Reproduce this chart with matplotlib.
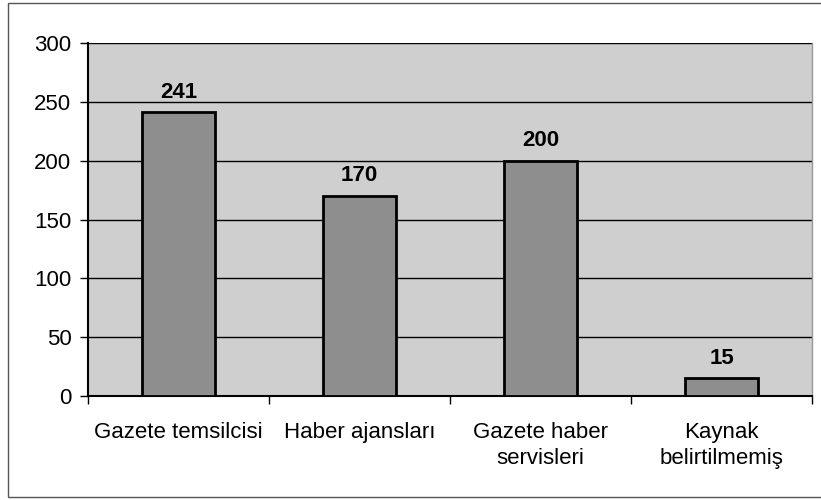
import numpy as np
import matplotlib
matplotlib.use('Agg')
import matplotlib.pyplot as plt
from matplotlib.patches import Rectangle

categories = ['Gazete temsilcisi', 'Haber ajansları', 'Gazete haber\nservisleri', 'Kaynak\nbelirtilmemiş']
values = [241, 170, 200, 15]
yticks = [0, 50, 100, 150, 200, 250, 300]

plt.rcParams['font.family'] = ['Liberation Sans', 'DejaVu Sans']

fig = plt.figure(figsize=(8.21, 5), dpi=100)
fig.patch.set_facecolor('white')
ax = fig.add_axes([88/821, 104/500, 724/821, 353/500])
ax.set_facecolor('#cfcfcf')

x = np.arange(len(categories))
bars = ax.bar(x, values, width=0.4, color='#8e8e8e', edgecolor='black', linewidth=2, zorder=3)

for b, v in zip(bars, values):
    ax.annotate(str(v), (b.get_x() + b.get_width()/2, v), xytext=(0, 7),
                textcoords='offset points', ha='center', va='bottom',
                fontsize=16, fontweight='bold', zorder=4)

ax.set_xlim(-0.5, len(categories) - 0.5)
ax.set_ylim(0, 300)
ax.set_yticks(yticks)
ax.yaxis.grid(True, color='black', linewidth=1, zorder=1)
ax.set_axisbelow(True)

ax.set_xticks(x)
ax.set_xticklabels(categories, fontsize=16, linespacing=1.3)
ax.set_xticks(np.arange(len(categories) + 1) - 0.5, minor=True)
ax.tick_params(axis='x', which='major', length=0, pad=19)
ax.tick_params(axis='x', which='minor', length=6, width=1, direction='out')
ax.tick_params(axis='y', labelsize=16, length=6, width=1, direction='out', pad=6)

for s in ['left', 'bottom']:
    ax.spines[s].set_linewidth(1.5)
    ax.spines[s].set_color('black')
ax.spines['top'].set_visible(False)
ax.spines['right'].set_color('#999999')
ax.spines['right'].set_linewidth(1)

# outer chart frame
fig.patches.append(Rectangle((8/821, 3/500), 830/821, 494/500, transform=fig.transFigure,
                             fill=False, edgecolor='#555555', linewidth=1))

fig.savefig('out.png', dpi=100)
